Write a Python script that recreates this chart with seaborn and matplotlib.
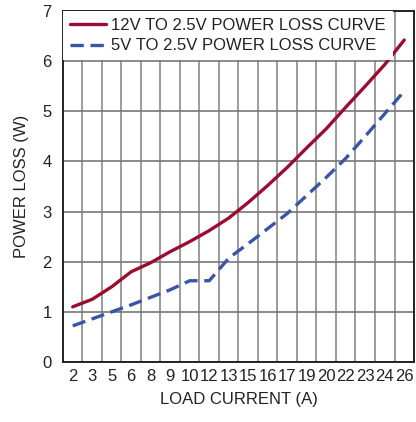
import numpy as np
import pandas as pd
import seaborn as sns
import matplotlib.pyplot as plt
from matplotlib import font_manager

# load current tick labels (one category per grid cell)
currents = ['2', '3', '5', '6', '8', '9', '10', '12', '13', '15',
            '16', '17', '19', '20', '22', '23', '24', '26']
# power loss (W)
loss_12v = [1.10, 1.25, 1.50, 1.80, 1.98, 2.20, 2.40, 2.62, 2.87, 3.18,
            3.52, 3.88, 4.27, 4.65, 5.08, 5.50, 5.93, 6.42]
loss_5v = [0.72, 0.86, 1.00, 1.14, 1.29, 1.44, 1.62, 1.62, 2.07, 2.36,
           2.66, 2.96, 3.32, 3.68, 4.06, 4.50, 4.95, 5.40]

lab12 = '12V TO 2.5V POWER LOSS CURVE'
lab5 = '5V TO 2.5V POWER LOSS CURVE'

# pick a narrow font if there is one
names = {f.name for f in font_manager.fontManager.ttflist}
fam, fs = 'Liberation Sans', 12
for cand in ['Liberation Sans Narrow', 'DejaVu Sans Condensed']:
    if cand in names:
        fam, fs = cand, 13
        break

sns.set_style('white')
plt.rcParams['font.family'] = [fam, 'DejaVu Sans']
plt.rcParams['font.size'] = fs

pos = np.arange(len(currents))
df = pd.DataFrame({'pos': pos, lab12: loss_12v, lab5: loss_5v})
df = df.melt(id_vars='pos', var_name='curve', value_name='loss')

fig = plt.figure(figsize=(4.16, 4.22), dpi=100)
ax = fig.add_axes([0.1514, 0.1422, 0.8438, 0.832])

sns.lineplot(data=df, x='pos', y='loss', hue='curve', style='curve',
             palette=['#9c0b30', '#3a55a6'],
             dashes={lab12: '', lab5: (4, 2)}, linewidth=2.4, ax=ax)

ax.set_xlim(-0.5, len(currents) - 0.5)
ax.set_ylim(0, 7)
ax.set_xticks(pos, currents)
ax.set_xticks(pos[:-1] + 0.5, minor=True)
ax.set_yticks(range(8))
ax.grid(which='minor', axis='x', color='#8a8a8a', linewidth=1.2)
ax.grid(which='major', axis='y', color='#777777', linewidth=1.2)
ax.tick_params(axis='both', which='both', length=0, labelsize=fs, colors='#222222')
ax.tick_params(axis='x', pad=5)
ax.tick_params(axis='y', pad=8)
for s in ax.spines.values():
    s.set_color('#222222')
    s.set_linewidth(1.4)

ax.set_xlabel('LOAD CURRENT (A)', fontsize=fs, color='#222222', labelpad=6)
ax.set_ylabel('POWER LOSS (W)', fontsize=fs, color='#222222', labelpad=10)

leg = ax.legend(loc='upper left', bbox_to_anchor=(0, 1), borderaxespad=0,
                frameon=True, fancybox=False, framealpha=1, facecolor='white',
                edgecolor='none', fontsize=fs, handlelength=2.2,
                handletextpad=0.3, borderpad=0.4, labelspacing=0.35)
for t in leg.get_texts():
    t.set_color('#222222')
leg.set_zorder(5)

fig.savefig('out.png', dpi=100)
